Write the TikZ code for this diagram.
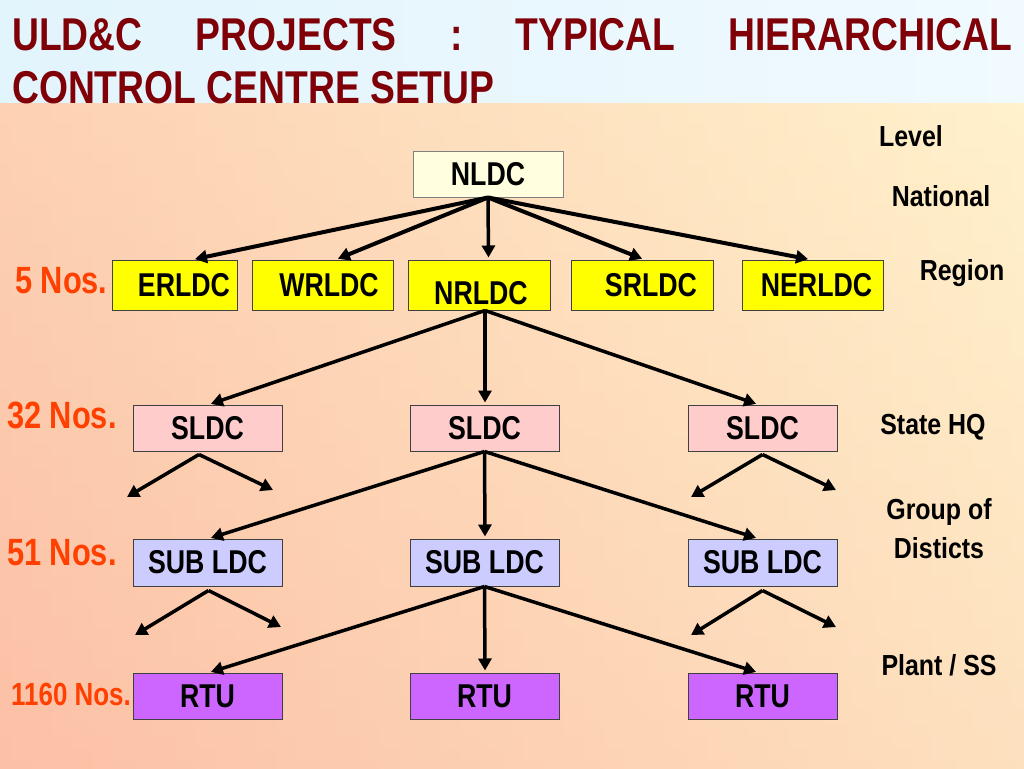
\documentclass[tikz,border=0pt]{standalone}
\usepackage{fontspec}
\setmainfont{Liberation Sans}
\newfontfamily\nar[FakeStretch=0.86]{Liberation Sans}
\newfontfamily\narr[FakeStretch=0.81]{Liberation Sans}
\usetikzlibrary{arrows.meta}
\definecolor{titlered}{RGB}{128,0,8}
\definecolor{nosred}{RGB}{255,64,0}
\definecolor{band}{RGB}{226,244,252}
\definecolor{bandr}{RGB}{240,250,255}
\definecolor{warml}{RGB}{252,192,166}
\definecolor{warmr}{RGB}{255,242,204}
\definecolor{nlfill}{RGB}{255,255,224}
\definecolor{yel}{RGB}{255,255,0}
\definecolor{pinkf}{RGB}{255,204,204}
\definecolor{lavf}{RGB}{204,204,255}
\definecolor{rtuf}{RGB}{204,102,255}
\tikzset{
  box/.style={draw=black!75, line width=1pt, inner sep=0pt, font=\narr\bfseries\fontsize{33}{36}\selectfont},
  arr/.style={line width=3.5pt, -{Triangle[length=12pt,width=13pt]}, shorten >=2pt},
  nos/.style={text=nosred, font=\narr\bfseries\fontsize{38}{40}\selectfont, inner sep=0pt},
  lvl/.style={font=\nar\bfseries\fontsize{29}{34}\selectfont, inner sep=0pt, align=center}
}
\begin{document}
\begin{tikzpicture}[x=1pt,y=-1pt]
\useasboundingbox (0,0) rectangle (1024,768);
\shade[left color=band, right color=bandr] (0,0) rectangle (1024,103);
\shade[left color=warml, right color=warmr] (0,103) rectangle (1024,768);
\shade[top color=warmr, bottom color=warml, opacity=0.35] (0,103) rectangle (1024,768);

% title
\node[anchor=base west, inner sep=0pt, text width=1000pt, align=left, text=titlered,
      font=\narr\bfseries\fontsize{46}{50}\selectfont] (t1) at (12,51)
  {ULD\&C\hfill PROJECTS\hfill :\hfill TYPICAL\hfill HIERARCHICAL};
\node[anchor=base west, inner sep=0pt, text=titlered,
      font=\narr\bfseries\fontsize{46}{50}\selectfont] (t2) at (12,103)
  {CONTROL CENTRE SETUP};

% boxes
\node[box, fill=nlfill, draw=black!50, minimum width=150pt, minimum height=46pt] (nldc) at (488,174) {\raisebox{-3pt}{NLDC}};
\node[box, fill=yel, minimum width=125pt, minimum height=50pt] (er) at (174.5,285) {\hspace*{19pt}ERLDC};
\node[box, fill=yel, minimum width=141pt, minimum height=50pt] (wr) at (322.5,285) {\hspace*{13pt}WRLDC};
\node[box, fill=yel, minimum width=142pt, minimum height=50pt] (nr) at (479,285) {\raisebox{-19pt}[0pt][0pt]{\hspace*{4pt}NRLDC}};
\node[box, fill=yel, minimum width=142pt, minimum height=50pt] (sr) at (642,285) {\hspace*{18pt}SRLDC};
\node[box, fill=yel, minimum width=141pt, minimum height=50pt] (ne) at (812.5,285) {\hspace*{8pt}NERLDC};

\foreach \n/\x in {s1/207.5,s2/484.5,s3/762.5}{
  \node[box, fill=pinkf, minimum width=149pt, minimum height=46pt] (\n) at (\x,428) {SLDC};
  \node[box, fill=lavf, minimum width=149pt, minimum height=47pt] (u\n) at (\x,562.5) {SUB LDC};
  \node[box, fill=rtuf, minimum width=149pt, minimum height=46pt] (r\n) at (\x,696) {RTU};
}

% labels
\node[nos, anchor=west] (n5) at (15,281) {5 Nos.};
\node[nos, anchor=west] (n32) at (7,415) {32 Nos.};
\node[nos, anchor=west] (n51) at (7,553) {51 Nos.};
\node[nos, anchor=west, font=\narr\bfseries\fontsize{32}{34}\selectfont] (n1160) at (11,694) {1160 Nos.};

\node[lvl] (lv) at (911,136) {Level};
\node[lvl] (lnat) at (941,196) {National};
\node[lvl] (lreg) at (962,273) {Region};
\node[lvl] (lst) at (933,427) {State HQ};
\node[lvl] (lgr) at (939,512) {Group of};
\node[lvl] (ldi) at (939,548) {Disticts};
\node[lvl] (lpl) at (939,665) {Plant / SS};

% connectors top
\draw[arr, line width=4pt] (nldc.south) -- ([xshift=18.5pt]er.north);
\draw[arr, line width=4pt] (nldc.south) -- ([xshift=13.5pt]wr.north);
\draw[arr, line width=3.5pt] (nldc.south) -- ([xshift=9.5pt]nr.north);
\draw[arr, line width=4pt] (nldc.south) -- ([xshift=2pt]sr.north);
\draw[arr, line width=4pt] (nldc.south) -- ([xshift=-2.5pt]ne.north);

% region -> state
\draw[arr] ([xshift=6pt]nr.south) -- ([xshift=1.5pt]s1.north);
\draw[arr] ([xshift=6pt]nr.south) -- ([xshift=0.5pt]s2.north);
\draw[arr] ([xshift=6pt]nr.south) -- ([xshift=-4.5pt]s3.north);

% state -> sub
\draw[arr] (s2.south) -- ([xshift=1.5pt]us1.north);
\draw[arr] (s2.south) -- ([xshift=0.5pt]us2.north);
\draw[arr] (s2.south) -- ([xshift=-4.5pt]us3.north);

% sub -> rtu
\draw[arr] (us2.south) -- ([xshift=1.5pt]rs1.north);
\draw[arr] (us2.south) -- ([xshift=0.5pt]rs2.north);
\draw[arr] (us2.south) -- ([xshift=-4.5pt]rs3.north);

% small fan-out arrows
\coordinate (a1l) at (127,497);
\coordinate (a1r) at (273,490);
\coordinate (a3l) at (691,497);
\coordinate (a3r) at (836,490);
\coordinate (b1l) at (135,635);
\coordinate (b1r) at (281,627);
\coordinate (b3l) at (691,635);
\coordinate (b3r) at (836,627);
\draw[arr, shorten >=0pt] ([shift={(-8.5,3)}]s1.south) -- (a1l);
\draw[arr, shorten >=0pt] ([shift={(-8.5,3)}]s1.south) -- (a1r);
\draw[arr, shorten >=0pt] ([shift={(0,3)}]s3.south) -- (a3l);
\draw[arr, shorten >=0pt] ([shift={(0,3)}]s3.south) -- (a3r);
\draw[arr, shorten >=0pt] ([shift={(1,4)}]us1.south) -- (b1l);
\draw[arr, shorten >=0pt] ([shift={(1,4)}]us1.south) -- (b1r);
\draw[arr, shorten >=0pt] ([shift={(0,4)}]us3.south) -- (b3l);
\draw[arr, shorten >=0pt] ([shift={(0,4)}]us3.south) -- (b3r);
\end{tikzpicture}
\end{document}
